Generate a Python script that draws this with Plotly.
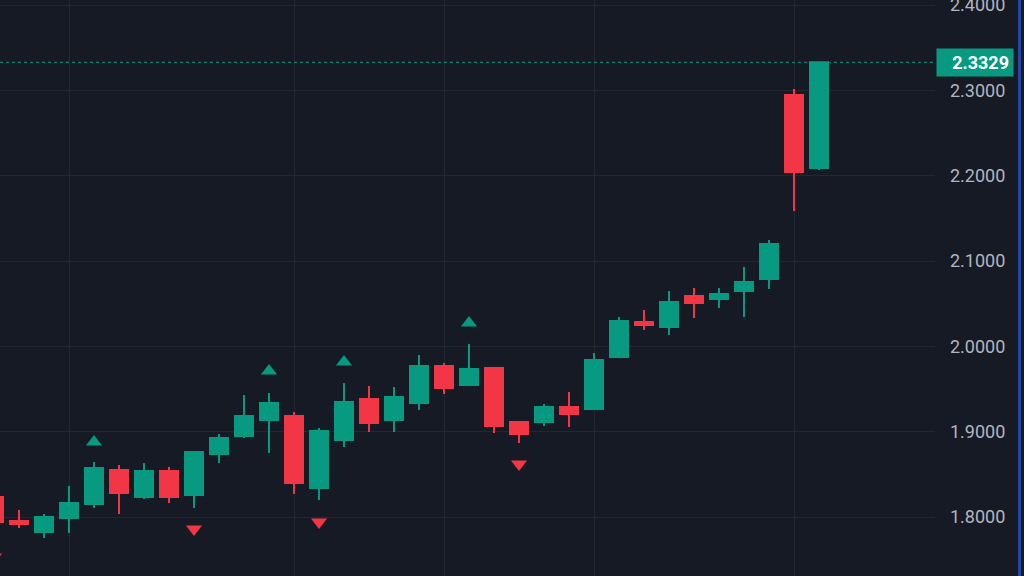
import plotly.graph_objects as go

# ---- data ----
idx = list(range(34))
opens = [1.8234, 1.7953, 1.7824, 1.7988, 1.8152, 1.8551, 1.8234, 1.8539, 1.8258, 1.8738,
         1.8949, 1.9137, 1.9184, 1.8340, 1.8902, 1.9383, 1.9137, 1.9336, 1.9770, 1.9547,
         1.9746, 1.9113, 1.9113, 1.9289, 1.9266, 1.9875, 2.0285, 2.0227, 2.0590, 2.0555,
         2.0649, 2.0789, 2.2946, 2.2090]
highs = [1.8258, 1.8082, 1.8035, 1.8363, 1.8645, 1.8609, 1.8633, 1.8586, 1.8773, 1.8973,
         1.9430, 1.9453, 1.9231, 1.9043, 1.9570, 1.9535, 1.9523, 1.9899, 1.9805, 2.0027,
         1.9758, 1.9125, 1.9324, 1.9465, 1.9922, 2.0344, 2.0426, 2.0649, 2.0684, 2.0684,
         2.0930, 2.1246, 2.3016, 2.3335]
lows = [1.7918, 1.7871, 1.7754, 1.7812, 1.8105, 1.8035, 1.8211, 1.8164, 1.8105, 1.8633,
        1.8926, 1.8750, 1.8270, 1.8199, 1.8820, 1.8996, 1.8996, 1.9254, 1.9441, 1.9535,
        1.8984, 1.8867, 1.9066, 1.9055, 1.9254, 1.9863, 2.0191, 2.0133, 2.0332, 2.0449,
        2.0344, 2.0672, 2.1586, 2.2067]
closes = [1.7941, 1.7918, 1.8000, 1.8164, 1.8574, 1.8281, 1.8539, 1.8234, 1.8762, 1.8926,
          1.9184, 1.9336, 1.8398, 1.9008, 1.9348, 1.9102, 1.9406, 1.9770, 1.9512, 1.9734,
          1.9066, 1.8973, 1.9289, 1.9207, 1.9840, 2.0297, 2.0250, 2.0520, 2.0508, 2.0613,
          2.0754, 2.1199, 2.2043, 2.3329]

buy_idx = [4, 11, 14, 19]
buy_val = [1.8879, 1.9711, 1.9817, 2.0273]
sell_idx = [0, 8, 13, 21]
sell_val = [1.7531, 1.7859, 1.7941, 1.8621]

y_ticks = [1.8, 1.9, 2.0, 2.1, 2.2, 2.3, 2.4]
x_grid = [3, 12, 18, 24, 32]

# ---- styles ----
BG = "#161a25"
GRID = "#242733"
GREEN = "#089981"
RED = "#f23645"
TXT = "#b2b5be"

fig = go.Figure()
fig.add_trace(go.Candlestick(
    x=idx, open=opens, high=highs, low=lows, close=closes,
    increasing=dict(line=dict(color=GREEN, width=2), fillcolor=GREEN),
    decreasing=dict(line=dict(color=RED, width=2), fillcolor=RED),
    whiskerwidth=0, showlegend=False, hoverinfo="skip",
))
fig.add_trace(go.Scatter(
    x=buy_idx, y=buy_val, mode="markers",
    marker=dict(symbol="triangle-up", size=14, color=GREEN, line=dict(width=0)),
    showlegend=False, hoverinfo="skip",
))
fig.add_trace(go.Scatter(
    x=sell_idx, y=sell_val, mode="markers",
    marker=dict(symbol="triangle-down", size=14, color=RED, line=dict(width=0)),
    showlegend=False, hoverinfo="skip",
))

last = closes[-1]
fig.add_shape(type="line", xref="paper", yref="y", x0=0, x1=1, y0=last, y1=last,
              line=dict(color=GREEN, width=1, dash="dot"))
fig.add_shape(type="line", xref="paper", yref="paper", x0=1.0904, x1=1.0904, y0=0, y1=1,
              line=dict(color="#2448a8", width=3))
fig.add_annotation(xref="paper", yref="y", x=1, y=last, xanchor="left", yanchor="middle",
                   xshift=1, text="<b>%.4f</b>" % last, showarrow=False,
                   bgcolor=GREEN, width=68, height=19, borderpad=4, align="right",
                   font=dict(family="Roboto", size=18, color="#ffffff"))

fig.update_layout(
    width=1024, height=576,
    paper_bgcolor=BG, plot_bgcolor=BG,
    margin=dict(l=0, r=89, t=0, b=0, autoexpand=False),
    boxgap=0.28, boxgroupgap=0,
    font=dict(family="Roboto", size=18, color=TXT),
    xaxis=dict(range=[0.24, 37.64], tickvals=x_grid, showticklabels=False,
               showgrid=True, gridcolor=GRID, gridwidth=1, zeroline=False,
               rangeslider=dict(visible=False), showline=False, fixedrange=True,
               automargin=False),
    yaxis=dict(side="right", range=[1.7309, 2.4059], tickvals=y_ticks, tickformat=".4f",
               showgrid=True, gridcolor=GRID, gridwidth=1, zeroline=False,
               ticks="", ticklabelstandoff=14, ticklabeloverflow="allow", showline=False,
               automargin=False,
               tickfont=dict(family="Roboto", size=18, color=TXT)),
)

fig.write_html("out.html", config={"displayModeBar": False},
               post_script="document.body.style.margin='0';document.body.style.background='%s';" % BG)
